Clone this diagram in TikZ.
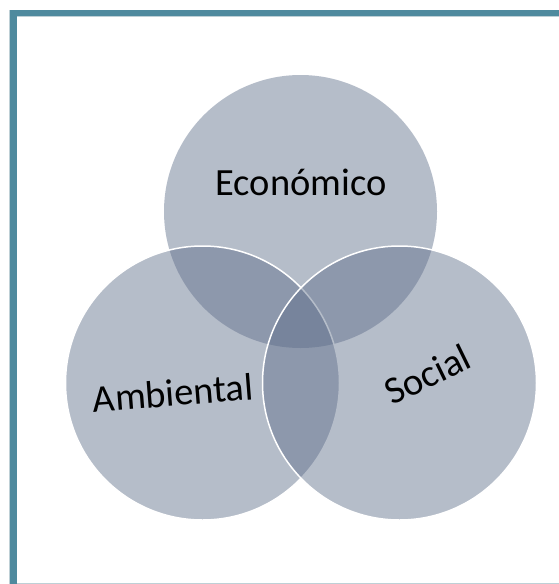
\documentclass[tikz,border=0pt]{standalone}
\usepackage{fontspec}
\setmainfont{Carlito}
\definecolor{frameteal}{RGB}{79,138,158}
\definecolor{framelight}{RGB}{190,208,214}
\definecolor{venn}{RGB}{93,109,137}
\begin{document}
\begin{tikzpicture}[x=1pt,y=-1pt,
  venncircle/.style={fill=venn,fill opacity=0.45},
  vennedge/.style={draw=white,line width=1.5pt},
  venntext/.style={font=\fontsize{38.5}{40}\selectfont,text=black,anchor=base,inner sep=0pt}]
\useasboundingbox (0,0) rectangle (559,584);
\fill[white] (0,0) rectangle (559,584);
% frame
\fill[framelight] (9,10) rectangle (10,584);
\fill[framelight] (17,16) rectangle (559,17);
\fill[frameteal] (10,10) rectangle (559,16);
\fill[frameteal] (10,10) rectangle (17,584);
\fill[framelight] (17,582.5) rectangle (559,584);
% circles
\coordinate (ctop) at (300.5,211.5);
\coordinate (cleft) at (202.5,383);
\coordinate (cright) at (399.5,383);
\fill[venncircle] (ctop) circle[radius=136.5];
\fill[venncircle] (cleft) circle[radius=137];
\draw[vennedge] (cleft) circle[radius=137];
\fill[venncircle] (cright) circle[radius=137];
\draw[vennedge] (cright) circle[radius=137];
% labels
\node[venntext] (eco) at (301,195) {Económico};
\node[venntext,rotate=4.5] (amb) at (174,406) {Ambiental};
\node[venntext,rotate=26] (soc) at (433,386) {Social};
\end{tikzpicture}
\end{document}
